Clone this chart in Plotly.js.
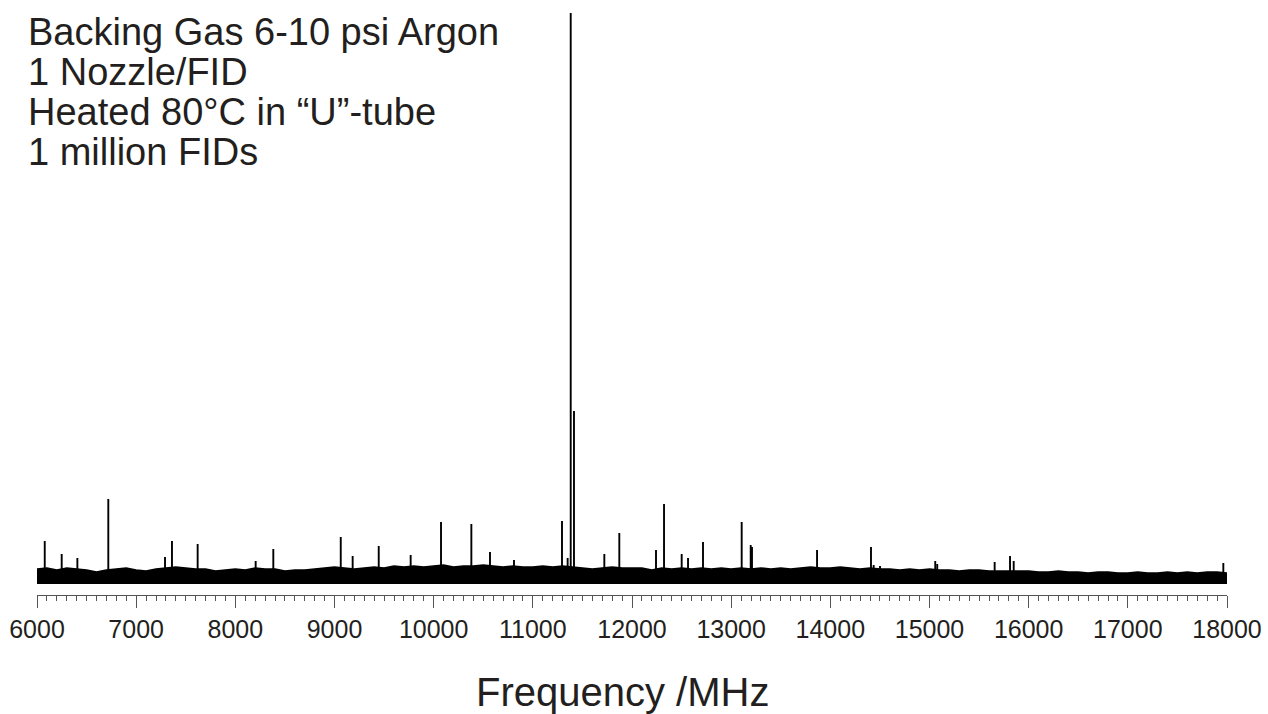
<!DOCTYPE html>
<html>
<head>
<meta charset="utf-8">
<script src="https://cdn.plot.ly/plotly-3.0.1.min.js"></script>
<style>html,body{margin:0;padding:0;background:#fff;}#chart{width:1268px;height:714px;}</style>
</head>
<body>
<div id="chart"></div>
<script>
// Spectrum (relative intensity, arbitrary units)
const xMin = 6000;
const xMax = 18000;
const tickLabels = [6000, 7000, 8000, 9000, 10000, 11000, 12000, 13000, 14000, 15000, 16000, 17000, 18000];

// Upper envelope of the baseline noise band, sampled every 100 MHz from 6000 to 18000
const noiseStep = 100;
const noiseLevel = [
  15, 16, 14, 16, 15, 14, 12, 14, 15, 16,
  14, 13, 15, 16, 17, 16, 15, 15, 13, 14,
  15, 14, 16, 15, 15, 13, 14, 14, 15, 16,
  17, 16, 15, 16, 17, 16, 18, 17, 18, 17,
  18, 19, 17, 18, 18, 19, 18, 17, 18, 17,
  17, 18, 17, 18, 17, 16, 15, 16, 17, 16,
  16, 16, 14, 16, 15, 16, 15, 16, 15, 16,
  15, 16, 15, 16, 15, 16, 15, 16, 17, 16,
  16, 17, 16, 15, 16, 15, 15, 14, 15, 14,
  15, 14, 14, 13, 14, 14, 13, 13, 13, 13,
  13, 12, 12, 13, 12, 12, 11, 12, 12, 11,
  11, 12, 11, 11, 12, 11, 12, 11, 12, 12,
  11
];

// Resolved lines: frequency (MHz) and peak height
const peakFreq = [6078, 6249, 6407, 6719, 7291, 7361, 7620, 8205, 8383, 9063,
  9183, 9446, 9768, 10074, 10380, 10568, 10810, 11294, 11351, 11382,
  11415, 11721, 11872, 12242, 12323, 12501, 12565, 12716, 13106, 13197,
  13210, 13866, 14410, 14437, 14501, 15058, 15078, 15657, 15812, 15849, 17963];
const peakHeight = [43, 30, 26, 85, 27, 43, 40, 23, 35, 47,
  28, 38, 29, 62, 60, 32, 24, 63, 26, 571,
  173, 30, 51, 34, 80, 30, 26, 42, 62, 39,
  37, 34, 37, 19, 18, 23, 20, 22, 28, 23, 21];

const infoLines = [
  'Backing Gas 6-10 psi Argon',
  '1 Nozzle/FID',
  'Heated 80\u00b0C in \u201cU\u201d-tube',
  '1 million FIDs'
];
const xTitle = 'Frequency /MHz';

// Build traces
const noiseX = noiseLevel.map((_, i) => xMin + i * noiseStep);
const stickX = [], stickY = [];
peakFreq.forEach((f, i) => { stickX.push(f, f, null); stickY.push(0, peakHeight[i], null); });

const ink = '#231f20';
const font = 'Liberation Sans, Arial, Helvetica, sans-serif';

const traces = [
  {x: noiseX, y: noiseLevel, type: 'scatter', mode: 'lines', fill: 'tozeroy',
   fillcolor: '#000', line: {color: '#000', width: 1.5}, hoverinfo: 'skip'},
  {x: stickX, y: stickY, type: 'scatter', mode: 'lines',
   line: {color: '#000', width: 1.9}, connectgaps: false}
];

const L = 37, R = 41, T = 12, B = 119, W = 1268, H = 714;
const pw = W - L - R, ph = H - T - B;
const px2x = p => (p - L) / pw;
const py2y = p => (H - B - p) / ph;

const lineY = [32, 72, 112, 152];
const annotations = infoLines.map((t, i) => ({
  text: t, xref: 'paper', yref: 'paper', x: px2x(26), y: py2y(lineY[i]),
  xanchor: 'left', yanchor: 'middle', showarrow: false,
  font: {family: font, size: 38, color: ink}
}));
annotations.push({
  text: xTitle, xref: 'paper', yref: 'paper', x: px2x(622), y: py2y(692),
  xanchor: 'center', yanchor: 'middle', showarrow: false,
  font: {family: font, size: 40, color: ink}
});

const layout = {
  width: W, height: H,
  margin: {l: L, r: R, t: T, b: B, pad: 0},
  paper_bgcolor: '#fff', plot_bgcolor: '#fff',
  showlegend: false,
  xaxis: {
    range: [xMin, xMax], tickvals: tickLabels, ticktext: tickLabels.map(String),
    ticks: 'outside', ticklen: 12, tickwidth: 1, tickcolor: '#555',
    showline: true, linecolor: '#555', linewidth: 1,
    showgrid: false, zeroline: false,
    tickfont: {family: font, size: 25, color: ink},
    minor: {dtick: 100, tick0: 6000, ticks: 'outside', ticklen: 5, tickwidth: 1, tickcolor: '#555', showgrid: false}
  },
  yaxis: {range: [-11, 572], visible: false, showgrid: false, zeroline: false},
  annotations: annotations
};

Plotly.newPlot('chart', traces, layout, {displayModeBar: false, staticPlot: true});
</script>
</body>
</html>
